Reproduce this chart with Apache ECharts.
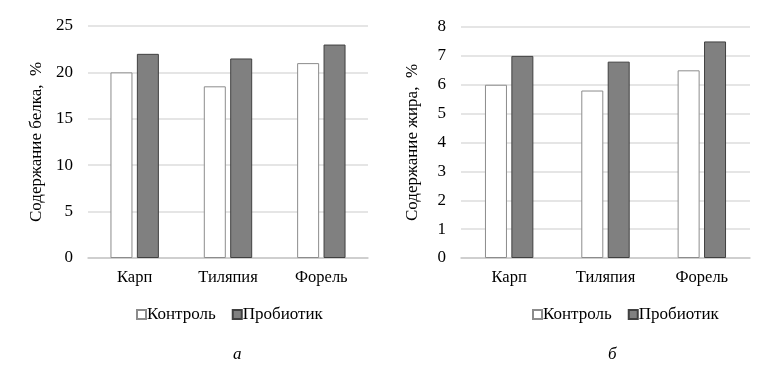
<!DOCTYPE html>
<html><head><meta charset="utf-8">
<script src="https://cdn.jsdelivr.net/npm/echarts@6/dist/echarts.min.js"></script>
<style>html,body{margin:0;padding:0;background:#fff}#c{width:762px;height:368px}</style>
</head><body><div id="c"></div>
<script>
const categories = ['Карп', 'Тиляпия', 'Форель'];
const seriesNames = ['Контроль', 'Пробиотик'];
const proteinControl = [20, 18.5, 21];
const proteinProbiotic = [22, 21.5, 23];
const fatControl = [6, 5.8, 6.5];
const fatProbiotic = [7, 6.8, 7.5];
const proteinTicks = {min: 0, max: 25, interval: 5};
const fatTicks = {min: 0, max: 8, interval: 1};
const panelLabels = ['а', 'б'];
const axisNames = ['Содержание белка,  %', 'Содержание жира,  %'];

const font = 'Liberation Serif, Times New Roman, serif';
const txt = {fontFamily: font, fontSize: 17, color: '#000'};
const catTxt = {fontFamily: font, fontSize: 16.5, color: '#000'};
const ctrlStyle = {color: '#ffffff', borderColor: '#8c8c8c', borderWidth: 1};
const probStyle = {color: '#808080', borderColor: '#404040', borderWidth: 1};

function xAx(i){return {type:'category', gridIndex:i, data:categories,
  axisLine:{lineStyle:{color:'#c8c8c8', width:1.5}}, axisTick:{show:false},
  axisLabel:Object.assign({margin:11}, catTxt)};}
function yAx(i, t){return {type:'value', gridIndex:i, min:t.min, max:t.max, interval:t.interval,
  name: axisNames[i], nameLocation:'middle', nameGap: i===0?43:40, nameRotate:90,
  nameTextStyle: txt,
  axisLine:{show:false}, axisTick:{show:false},
  axisLabel:Object.assign({margin:15}, txt),
  splitLine:{lineStyle:{color:'#dcdcdc', width:1.5}}};}
function bar(name, i, data, style){return {type:'bar', name:name, xAxisIndex:i, yAxisIndex:i,
  data:data, itemStyle:style, barWidth:22, barGap:'20%', animation:false};}

const legTxt = Object.assign({padding:[0,0,0,-4]}, txt);
const chart = echarts.init(document.getElementById('c'));
chart.setOption({
  animation:false,
  title:[
    {text:panelLabels[0], left:228, top:341, textStyle:{fontFamily:font, fontSize:17, fontStyle:'italic', fontWeight:'normal', color:'#000'}},
    {text:panelLabels[1], left:603, top:341, textStyle:{fontFamily:font, fontSize:17, fontStyle:'italic', fontWeight:'normal', color:'#000'}}
  ],
  grid:[
    {left:88, right:394, top:26, bottom:110},
    {left:461, right:12, top:27, bottom:110}
  ],
  legend:[
    {data:seriesNames, left:131, top:301, icon:'rect', itemWidth:9, itemHeight:9, itemGap:16, textStyle:legTxt},
    {data:seriesNames, left:527, top:301, icon:'rect', itemWidth:9, itemHeight:9, itemGap:16, textStyle:legTxt}
  ],
  xAxis:[xAx(0), xAx(1)],
  yAxis:[yAx(0, proteinTicks), yAx(1, fatTicks)],
  series:[
    bar(seriesNames[0], 0, proteinControl, ctrlStyle),
    bar(seriesNames[1], 0, proteinProbiotic, probStyle),
    bar(seriesNames[0], 1, fatControl, ctrlStyle),
    bar(seriesNames[1], 1, fatProbiotic, probStyle)
  ]
});
</script></body></html>
